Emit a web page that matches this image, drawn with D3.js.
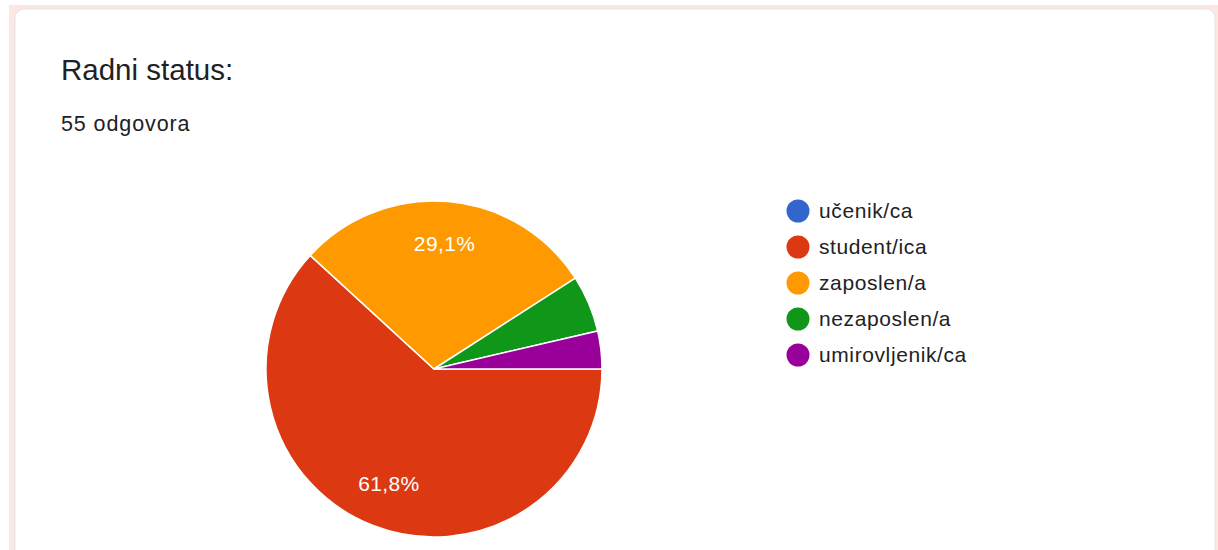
<!DOCTYPE html>
<html>
<head>
<meta charset="utf-8">
<script src="https://cdn.jsdelivr.net/npm/d3@7"></script>
<style>
  body { margin: 0; background: #fff; }
  svg text { font-family: "Liberation Sans", Arial, sans-serif; }
</style>
</head>
<body>
<div id="chart"></div>
<script>
// answers from the form
var categories = ["učenik/ca", "student/ica", "zaposlen/a", "nezaposlen/a", "umirovljenik/ca"];
var counts = [0, 34, 16, 3, 2];
var colors = ["#3366cc", "#dc3912", "#ff9900", "#109618", "#990099"];
var title_text = "Radni status:";
var subtitle_text = "55 odgovora";

var width = 1218, height = 550;

var svg = d3.select("#chart")
  .append("svg")
    .attr("width", width)
    .attr("height", height);

// pinkish page background + card
svg.append("rect")
  .attr("x", 9).attr("y", 5)
  .attr("width", width).attr("height", height)
  .attr("fill", "#fde7e1");

svg.append("rect")
  .attr("x", 15).attr("y", 9)
  .attr("width", 1200).attr("height", height + 20)
  .attr("rx", 9)
  .attr("fill", "#fff")
  .attr("stroke", "#e3e3e8")
  .attr("stroke-width", 1);

svg.append("text")
  .attr("x", 61).attr("y", 80)
  .attr("font-family", "Roboto, sans-serif")
  .attr("font-size", "29.5px")
  .attr("fill", "#202124")
  .text(title_text);

svg.append("text")
  .attr("x", 61).attr("y", 131)
  .attr("font-family", "Roboto, sans-serif")
  .attr("font-size", "21.5px")
  .attr("letter-spacing", "0.9px")
  .attr("fill", "#202124")
  .text(subtitle_text);

var total = d3.sum(counts);
var data = categories.map(function(c, i){ return {name: c, value: counts[i], color: colors[i]}; });

// pie starts at 3 o'clock and runs clockwise
var pie = d3.pie()
  .sort(null)
  .value(function(d){ return d.value; })
  .startAngle(Math.PI / 2)
  .endAngle(Math.PI / 2 + 2 * Math.PI);

var radius = 168;
var arc = d3.arc().innerRadius(0).outerRadius(radius);
var labelArc = d3.arc().innerRadius(radius * 0.74).outerRadius(radius * 0.74);

var g = svg.append("g")
  .attr("transform", "translate(434,369)");

var arcs = pie(data).filter(function(d){ return d.data.value > 0; });

g.selectAll("path")
  .data(arcs)
  .enter()
  .append("path")
    .attr("d", arc)
    .attr("fill", function(d){ return d.data.color; })
    .attr("stroke", "#fff")
    .attr("stroke-width", 1.5);

var fmt = function(v){ return (v / total * 100).toFixed(1).replace(".", ",") + "%"; };

g.selectAll(".lbl")
  .data(arcs.filter(function(d){ return d.data.value / total > 0.1; }))
  .enter()
  .append("text")
    .attr("class", "lbl")
    .attr("transform", function(d){ return "translate(" + labelArc.centroid(d) + ")"; })
    .attr("text-anchor", "middle")
    .attr("dy", "0.3em")
    .attr("font-size", "21px")
    .attr("letter-spacing", "0.4px")
    .attr("fill", "#fff")
    .text(function(d){ return fmt(d.data.value); });

// legend
var legend = svg.append("g")
  .attr("transform", "translate(798,211)");

var row = legend.selectAll("g")
  .data(data)
  .enter()
  .append("g")
    .attr("transform", function(d, i){ return "translate(0," + (i * 36) + ")"; });

row.append("circle")
  .attr("r", 11.5)
  .attr("fill", function(d){ return d.color; });

row.append("text")
  .attr("x", 21)
  .attr("dy", "0.35em")
  .attr("font-size", "21px")
  .attr("letter-spacing", "0.6px")
  .attr("fill", "#222")
  .text(function(d){ return d.name; });
</script>
</body>
</html>
